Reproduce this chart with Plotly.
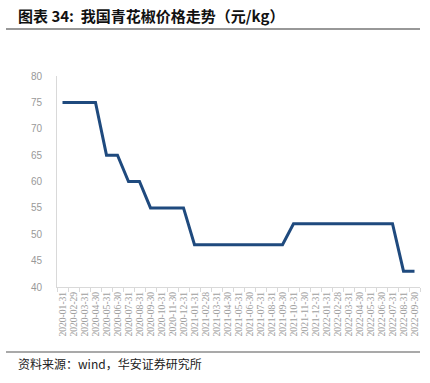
import plotly.graph_objects as go

dates = ["2020-01-31","2020-02-29","2020-03-31","2020-04-30","2020-05-31","2020-06-30",
         "2020-07-31","2020-08-31","2020-09-30","2020-10-31","2020-11-30","2020-12-31",
         "2021-01-31","2021-02-28","2021-03-31","2021-04-30","2021-05-31","2021-06-30",
         "2021-07-31","2021-08-31","2021-09-30","2021-10-31","2021-11-30","2021-12-31",
         "2022-01-31","2022-02-28","2022-03-31","2022-04-30","2022-05-31","2022-06-30",
         "2022-07-31","2022-08-31","2022-09-30"]
prices = [75,75,75,75,65,65,60,60,55,55,55,55,
          48,48,48,48,48,48,48,48,48,52,52,52,
          52,52,52,52,52,52,52,43,43]
y_ticks = [40,45,50,55,60,65,70,75,80]

W, H = 430, 383
L, R, T, B = 57, 10, 76, 96
pw, ph = W - L - R, H - T - B

def px(x):
    return (x - L) / pw

def py(y):
    return (H - B - y) / ph

fig = go.Figure()
fig.add_trace(go.Scatter(x=dates, y=prices, mode="lines",
                         line=dict(color="#1F4A7E", width=3), showlegend=False,
                         hoverinfo="skip"))

fig.update_layout(
    width=W, height=H, paper_bgcolor="white", plot_bgcolor="white",
    margin=dict(l=L, r=R, t=T, b=B, autoexpand=False),
    xaxis=dict(type="category", showgrid=False, showline=True, linecolor="#D9D9D9",
               ticks="outside", tickson="boundaries", ticklen=4, tickcolor="#D9D9D9",
               tickangle=-90, automargin=False, tickmode="linear", tick0=0, dtick=1,
               tickfont=dict(family="Liberation Serif", size=9.6, color="#A0A0A0"),
               range=[-0.5, len(dates) - 0.5]),
    yaxis=dict(range=[40, 80], tickvals=y_ticks, showgrid=False, showline=True,
               linecolor="#D9D9D9", zeroline=False, ticks="", ticklabelstandoff=12,
               automargin=False,
               tickfont=dict(family="Liberation Sans", size=10, color="#999999")),
    shapes=[
        dict(type="line", xref="paper", yref="paper", x0=px(6), x1=px(420), y0=py(29), y1=py(29),
             line=dict(color="#333333", width=1.2)),
        dict(type="line", xref="paper", yref="paper", x0=px(6), x1=px(420), y0=py(352), y1=py(352),
             line=dict(color="#555555", width=1.2)),
    ],
    annotations=[
        dict(xref="paper", yref="paper", x=px(16), y=py(16), xanchor="left", yanchor="middle",
             showarrow=False, text="<b>图表 34:  我国青花椒价格走势（元/kg）</b>",
             font=dict(family="Noto Sans CJK SC", size=15, color="#111111")),
        dict(xref="paper", yref="paper", x=px(16), y=py(363), xanchor="left", yanchor="middle",
             showarrow=False, text="资料来源：wind，华安证券研究所",
             font=dict(family="Noto Sans CJK SC", size=12, color="#222222")),
    ],
)

fig.write_html("out.html", config={"displayModeBar": False},
               post_script="document.body.style.margin='0';")
